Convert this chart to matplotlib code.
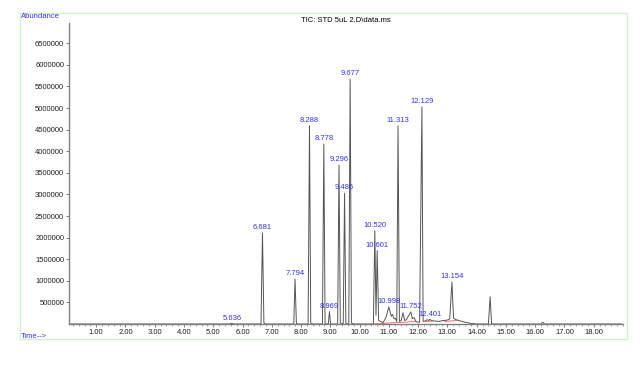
import matplotlib.pyplot as plt
from matplotlib.patches import Rectangle
from matplotlib.ticker import MultipleLocator

plt.rcParams['font.family'] = ['Liberation Sans', 'DejaVu Sans']

# TIC trace (minutes, abundance)
trace_time = [
    0.10, 5.55, 5.636, 5.70,
    6.63, 6.681, 6.73, 6.80,
    7.75, 7.794, 7.84, 7.90,
    8.24, 8.288, 8.33, 8.40,
    8.73, 8.778, 8.82, 8.88,
    8.93, 8.969, 9.01,
    9.25, 9.296, 9.34, 9.44, 9.486, 9.53, 9.63, 9.677, 9.72, 9.80,
    10.47, 10.520, 10.56, 10.601, 10.65, 10.72, 10.80, 10.90, 10.998,
    11.08, 11.12, 11.18, 11.22, 11.27, 11.313, 11.36, 11.42, 11.48, 11.54,
    11.60, 11.68, 11.752, 11.80, 11.86, 11.93, 12.05, 12.129, 12.17, 12.25,
    12.30, 12.36, 12.401, 12.45, 12.55, 12.70, 12.85, 13.00, 13.08, 13.154,
    13.21, 13.30, 13.45, 13.60, 13.80, 14.00,
    14.40, 14.46, 14.51,
    16.20, 16.26, 16.32, 18.95,
]
trace_abund = [
    0, 0, 15000, 0,
    0, 2110000, 20000, 0,
    0, 1040000, 10000, 0,
    0, 4590000, 20000, 0,
    0, 4170000, 20000, 0,
    0, 280000, 0,
    0, 3680000, 20000, 0, 3030000, 10000, 0, 5670000, 20000, 0,
    0, 2160000, 200000, 1700000, 80000, 60000, 30000, 150000, 400000,
    180000, 220000, 120000, 130000, 60000, 4590000, 60000, 80000, 260000, 80000,
    100000, 200000, 280000, 120000, 150000, 50000, 40000, 5030000, 60000, 70000,
    100000, 80000, 110000, 80000, 70000, 60000, 80000, 90000, 120000, 970000,
    130000, 100000, 70000, 40000, 15000, 0,
    0, 630000, 0,
    0, 40000, 0, 0,
]

# integrated peaks: retention time and apex abundance of each label
peak_rt = ['5.636', '6.681', '7.794', '8.288', '8.778', '8.969', '9.296', '9.486',
           '9.677', '10.520', '10.601', '10.998', '11.313', '11.752', '12.129',
           '12.401', '13.154']
peak_top = [15000, 2110000, 1040000, 4590000, 4170000, 280000, 3680000, 3030000,
            5670000, 2160000, 1700000, 400000, 4590000, 280000, 5030000,
            110000, 970000]

# red integration baselines (start, end, level at start, level at end)
base_start = [5.55, 6.63, 7.75, 8.24, 8.73, 8.93, 9.25, 9.44, 9.63, 10.47, 12.20, 12.90]
base_end = [5.70, 6.80, 7.90, 8.40, 8.88, 9.01, 9.40, 9.53, 9.80, 11.95, 12.50, 13.35]
base_y0 = [0, 0, 0, 0, 0, 0, 0, 0, 0, 0, 60000, 60000]
base_y1 = [0, 0, 0, 0, 0, 0, 0, 0, 0, 60000, 70000, 80000]

fig = plt.figure(figsize=(6.4, 3.66), dpi=100)
fig.patches.append(Rectangle((20 / 640, 1 - 339 / 366), 607 / 640, 326 / 366,
                             transform=fig.transFigure, fill=False,
                             edgecolor='#ccf5cc', linewidth=1.0))

ax = fig.add_axes([69 / 640, 1 - 324 / 366, 554 / 640, 301 / 366])
ax.plot(trace_time, trace_abund, color='#555555', linewidth=0.7)
for s, e, y0, y1 in zip(base_start, base_end, base_y0, base_y1):
    ax.plot([s, e], [y0, y1], color='#ff5050', linewidth=0.6)

for rt, top in zip(peak_rt, peak_top):
    ax.text(float(rt), top + 40000, rt, color='#3030ff', fontsize=5.5,
            ha='center', va='bottom')

ax.set_xlim(0.07, 19.0)
ax.set_ylim(0, 6970000)
ax.set_xticks([1, 2, 3, 4, 5, 6, 7, 8, 9, 10, 11, 12, 13, 14, 15, 16, 17, 18])
ax.set_xticklabels([f'{v:.2f}' for v in ax.get_xticks()])
ax.xaxis.set_minor_locator(MultipleLocator(0.2))
yt = [500000 * i for i in range(1, 14)]
ax.set_yticks(yt)
ax.set_yticklabels([str(v) for v in yt])

for side in ['top', 'right']:
    ax.spines[side].set_visible(False)
for side in ['left', 'bottom']:
    ax.spines[side].set_color('#808080')
    ax.spines[side].set_linewidth(1.0)
ax.tick_params(which='major', length=2.5, width=0.6, color='#606060',
               labelsize=5.5, labelcolor='#202020', pad=1)
ax.tick_params(axis='x', which='minor', length=1.5, width=0.5, color='#808080')

fig.text(21 / 640, 1 - 16 / 366, 'Abundance', color='#3030ff', fontsize=5.5,
         ha='left', va='center')
fig.text(21 / 640, 1 - 336 / 366, 'Time-->', color='#3030ff', fontsize=5.5,
         ha='left', va='center')
fig.text(346 / 640, 1 - 20 / 366, 'TIC: STD 5uL 2.D\\data.ms', color='black',
         fontsize=5.5, ha='center', va='center')

fig.savefig('out.png', dpi=100)
